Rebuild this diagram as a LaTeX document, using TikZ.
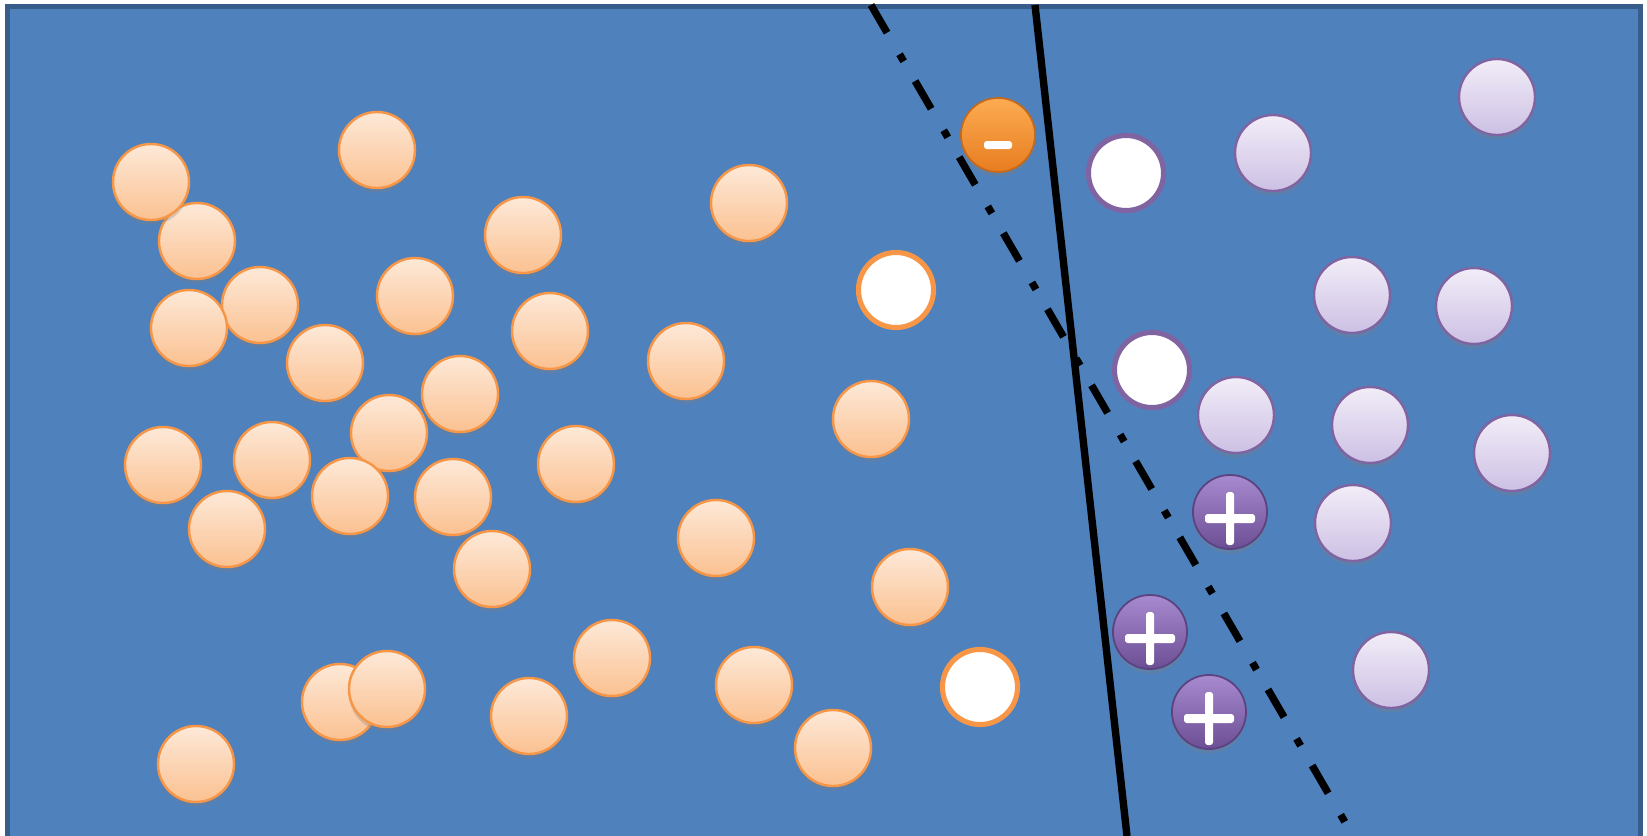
\documentclass[tikz,border=0pt]{standalone}
\usetikzlibrary{shadows}
\definecolor{backColor}{RGB}{79,129,189}
\definecolor{backLine}{RGB}{56,93,138}
\definecolor{peachTop}{RGB}{253,233,216}
\definecolor{peachBottom}{RGB}{251,193,145}
\definecolor{peachLine}{RGB}{247,150,70}
\definecolor{lilacTop}{RGB}{242,237,248}
\definecolor{lilacBottom}{RGB}{205,192,228}
\definecolor{lilacLine}{RGB}{128,100,162}
\definecolor{minusTop}{RGB}{252,172,82}
\definecolor{minusBottom}{RGB}{232,124,32}
\definecolor{plusTop}{RGB}{168,138,208}
\definecolor{plusBottom}{RGB}{108,78,148}
\begin{document}
\begin{tikzpicture}[x=0.01cm,y=-0.01cm]

            \tikzstyle{softShadow} = [drop shadow={shadow xshift=0pt, shadow yshift=-1.3pt, opacity=0.3}];
            \tikzstyle{peachNode} = [shape = circle, minimum size=0.76cm, inner sep=0pt, draw=peachLine, line width=0.7pt, top color=peachTop, bottom color=peachBottom, softShadow];
            \tikzstyle{lilacNode} = [shape = circle, minimum size=0.76cm, inner sep=0pt, draw=lilacLine, line width=0.7pt, top color=lilacTop, bottom color=lilacBottom, softShadow];
            \tikzstyle{emptyPeach} = [shape = circle, minimum size=0.75cm, inner sep=0pt, draw=peachLine, line width=1.45pt, fill=white];
            \tikzstyle{emptyLilac} = [shape = circle, minimum size=0.75cm, inner sep=0pt, draw=lilacLine, line width=1.45pt, fill=white];
            \tikzstyle{minusNode} = [shape = circle, minimum size=0.74cm, inner sep=0pt, draw=minusBottom!85!black, line width=0.5pt, top color=minusTop, bottom color=minusBottom, softShadow];
            \tikzstyle{plusNode} = [shape = circle, minimum size=0.74cm, inner sep=0pt, draw=plusBottom!85!black, line width=0.5pt, top color=plusTop, bottom color=plusBottom, softShadow];
            \tikzstyle{signBar} = [fill=white, rounded corners=0.8pt];
            \tikzstyle{solidBorder} = [line width=2.1pt, black];
            \tikzstyle{dashBorder} = [line width=2.1pt, black, dash pattern=on 9.1pt off 7.1pt on 2.3pt off 6.5pt];

            \useasboundingbox (0,0) rectangle (1647,836);
            \fill[white] (0,0) rectangle (1647,836);
            \draw[backLine, fill=backColor, line width=1.45pt] (7.5,6.5) rectangle (1640.5,845);

            \coordinate (solidTop)    at (1035,5);
            \coordinate (solidBottom) at (1127,836);
            \coordinate (dashTop)     at (871,5);
            \coordinate (dashBottom)  at (1353,836);

            \draw[solidBorder] (solidTop) -- (solidBottom);
            \draw[dashBorder] (dashTop) -- (dashBottom);

            \node[peachNode] (o1)  at (197,241) {};
            \node[peachNode] (o2)  at (151,182) {};
            \node[peachNode] (o3)  at (377,150) {};
            \node[peachNode] (o4)  at (260,305) {};
            \node[peachNode] (o5)  at (189,328) {};
            \node[peachNode] (o6)  at (415,296) {};
            \node[peachNode] (o7)  at (523,235) {};
            \node[peachNode] (o8)  at (749,203) {};
            \node[peachNode] (o9)  at (550,331) {};
            \node[peachNode] (o10) at (325,363) {};
            \node[peachNode] (o11) at (460,394) {};
            \node[peachNode] (o12) at (686,361) {};
            \node[peachNode] (o13) at (389,433) {};
            \node[peachNode] (o14) at (163,465) {};
            \node[peachNode] (o15) at (272,460) {};
            \node[peachNode] (o16) at (350,496) {};
            \node[peachNode] (o17) at (453,497) {};
            \node[peachNode] (o18) at (576,464) {};
            \node[peachNode] (o19) at (227,529) {};
            \node[peachNode] (o20) at (871,419) {};
            \node[peachNode] (o21) at (492,569) {};
            \node[peachNode] (o22) at (716,538) {};
            \node[peachNode] (o23) at (910,587) {};
            \node[peachNode] (o24) at (612,658) {};
            \node[peachNode] (o25) at (340,702) {};
            \node[peachNode] (o26) at (387,689) {};
            \node[peachNode] (o27) at (529,716) {};
            \node[peachNode] (o28) at (754,685) {};
            \node[peachNode] (o29) at (833,748) {};
            \node[peachNode] (o30) at (196,764) {};

            \node[emptyPeach] (wa) at (896,290) {};
            \node[emptyPeach] (wb) at (980,687) {};
            \node[emptyLilac] (wc) at (1126,173) {};
            \node[emptyLilac] (wd) at (1152,370) {};

            \node[lilacNode] (l1) at (1497,97) {};
            \node[lilacNode] (l2) at (1273,153) {};
            \node[lilacNode] (l3) at (1352,295) {};
            \node[lilacNode] (l4) at (1474,306) {};
            \node[lilacNode] (l5) at (1236,415) {};
            \node[lilacNode] (l6) at (1370,425) {};
            \node[lilacNode] (l7) at (1512,453) {};
            \node[lilacNode] (l8) at (1353,523) {};
            \node[lilacNode] (l9) at (1391,670) {};

            \node[minusNode] (minus) at (998,135) {};
            \node[plusNode] (plusA) at (1230,512) {};
            \node[plusNode] (plusB) at (1150,632) {};
            \node[plusNode] (plusC) at (1209,712) {};

            \fill[signBar] (minus.center) ++(-14,6) rectangle ++(28,8);
            \foreach \p in {plusA,plusB,plusC} {
              \fill[signBar] (\p.center) ++(-25,2) rectangle ++(50,9);
              \fill[signBar] (\p.center) ++(-4,-20) rectangle ++(8,53);
            }
          \end{tikzpicture}
\end{document}
